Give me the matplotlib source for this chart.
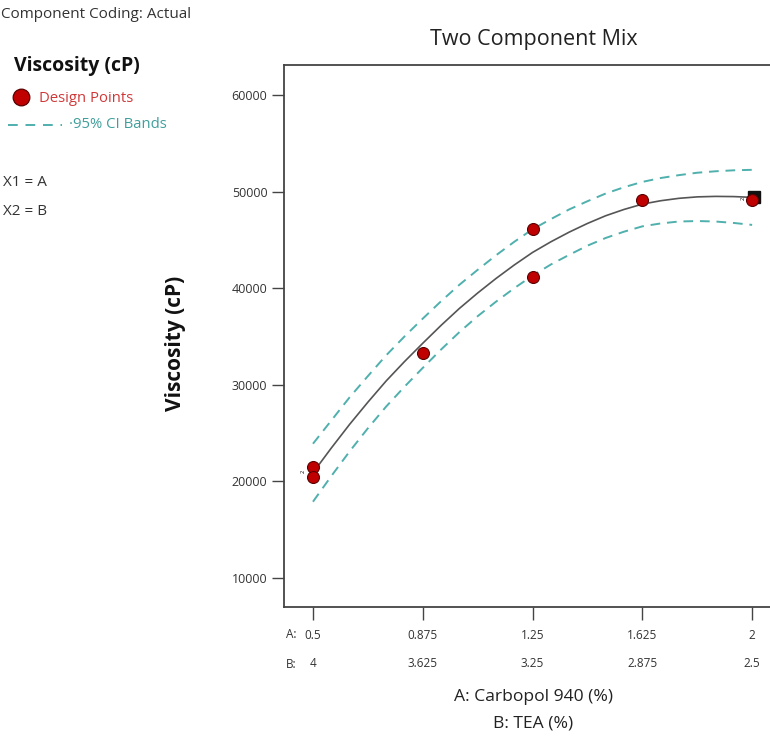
import matplotlib
matplotlib.use('Agg')
import matplotlib.pyplot as plt
from matplotlib.transforms import blended_transform_factory

plt.rcParams['font.family'] = ['Open Sans', 'DejaVu Sans']

# design points (A: Carbopol 940 %)
pts_a = [0.5, 0.5, 0.875, 1.25, 1.25, 1.625, 2.0]
pts_visc = [21500, 20500, 33300, 46100, 41200, 49100, 49100]

# fitted curve and 95% CI bands, read along A
fit_a = [0.5, 0.5625, 0.625, 0.6875, 0.75, 0.8125, 0.875, 0.9375, 1.0, 1.0625, 1.125, 1.1875, 1.25,
         1.3125, 1.375, 1.4375, 1.5, 1.5625, 1.625, 1.6875, 1.75, 1.8125, 1.875, 1.9375, 2.0]
fit_visc = [20900, 23450, 25900, 28200, 30400, 32400, 34300, 36150, 37900, 39500, 41000, 42400, 43700,
            44800, 45800, 46700, 47500, 48150, 48700, 49050, 49300, 49450, 49500, 49480, 49400]
upper_ci = [23900, 26300, 28700, 30900, 33050, 35000, 36850, 38650, 40350, 41900, 43400, 44800, 46100,
            47150, 48150, 49000, 49800, 50450, 51000, 51400, 51700, 51950, 52100, 52200, 52250]
lower_ci = [17900, 20550, 23100, 25500, 27750, 29800, 31750, 33650, 35450, 37100, 38600, 40000, 41300,
            42450, 43450, 44400, 45200, 45850, 46400, 46700, 46900, 46950, 46900, 46750, 46550]

a_ticks = [0.5, 0.875, 1.25, 1.625, 2.0]
a_labels = ['0.5', '0.875', '1.25', '1.625', '2']
b_labels = ['4', '3.625', '3.25', '2.875', '2.5']
y_ticks = [10000, 20000, 30000, 40000, 50000, 60000]

RED = '#c00000'
TEAL = '#4fb0ad'
W, H = 770, 739

fig = plt.figure(figsize=(W / 100, H / 100), dpi=100)
ax = fig.add_axes([284 / W, 1 - 607 / H, (782 - 284) / W, (607 - 65) / H])

ax.plot(fit_a, fit_visc, color='#555555', lw=1.2, zorder=3)
ax.plot(fit_a, upper_ci, color=TEAL, lw=1.4, ls=(0, (5, 3.5)), zorder=2)
ax.plot(fit_a, lower_ci, color=TEAL, lw=1.4, ls=(0, (5, 3.5)), zorder=2)

# multiple-point marker at A = 2
ax.plot([2.005], [49450], marker='s', ms=8.5, color='#111111', ls='none', zorder=4)
ax.plot(pts_a, pts_visc, 'o', ms=8.6, mfc=RED, mec='#5a0000', mew=0.8, ls='none', zorder=5)
ax.text(1.968, 49250, '2', fontsize=4, rotation=90, ha='center', va='center', zorder=5)
ax.text(0.465, 21000, '2', fontsize=4, rotation=90, ha='center', va='center', zorder=5)

ax.set_xlim(0.401, 2.102)
ax.set_ylim(7000, 63100)
ax.set_yticks(y_ticks)
ax.set_yticklabels([str(v) for v in y_ticks], fontsize=9, color='#333333')
ax.set_xticks(a_ticks)
ax.set_xticklabels([])
ax.tick_params(axis='both', direction='out', length=9, width=1.0, color='#444444')
ax.tick_params(axis='y', pad=3)
for sp in ax.spines.values():
    sp.set_color('#444444')
    sp.set_linewidth(1.3)

# two-row x tick labels
tr = blended_transform_factory(ax.transData, ax.transAxes)
for a, la, lb in zip(a_ticks, a_labels, b_labels):
    ax.text(a, -0.052, la, transform=tr, ha='center', va='center', fontsize=8.5, color='#333333')
    ax.text(a, -0.105, lb, transform=tr, ha='center', va='center', fontsize=8.5, color='#333333')
fig.text(286 / W, 1 - 635 / H, 'A:', ha='left', va='center', fontsize=8.5, color='#333333')
fig.text(286 / W, 1 - 664 / H, 'B:', ha='left', va='center', fontsize=8.5, color='#333333')

fig.text(534 / W, 1 - 40 / H, 'Two Component Mix', ha='center', va='center', fontsize=15.5, color='#222222')
fig.text(533 / W, 1 - 697 / H, 'A: Carbopol 940 (%)', ha='center', va='center', fontsize=12.6, color='#222222')
fig.text(533 / W, 1 - 723 / H, 'B: TEA (%)', ha='center', va='center', fontsize=12.6, color='#222222')
fig.text(176 / W, 1 - 343 / H, 'Viscosity (cP)', rotation=90, ha='center', va='center',
         fontsize=15, fontweight='bold', color='#111111')

# side panel
fig.text(1 / W, 1 - 14 / H, 'Component Coding: Actual', ha='left', va='center', fontsize=11, color='#333333')
fig.text(14 / W, 1 - 66 / H, 'Viscosity (cP)', ha='left', va='center', fontsize=14, fontweight='bold', color='#111111')
fig.lines.append(plt.Line2D([21 / W], [1 - 97 / H], marker='o', ms=12, mfc=RED, mec='#5a0000', mew=0.9,
                            transform=fig.transFigure, figure=fig))
fig.text(39 / W, 1 - 98 / H, 'Design Points', ha='left', va='center', fontsize=10.7, color='#d03838')
fig.lines.append(plt.Line2D([8 / W, 62 / W], [1 - 125 / H, 1 - 125 / H], color=TEAL, lw=1.4, ls=(0, (5, 4)),
                            transform=fig.transFigure, figure=fig))
fig.text(69 / W, 1 - 125 / H, '·95% CI Bands', ha='left', va='center', fontsize=10.7, color='#3f9f9c')
fig.text(3 / W, 1 - 182 / H, 'X1 = A', ha='left', va='center', fontsize=11, color='#333333')
fig.text(3 / W, 1 - 212 / H, 'X2 = B', ha='left', va='center', fontsize=11, color='#333333')

fig.savefig('out.png', dpi=100)
